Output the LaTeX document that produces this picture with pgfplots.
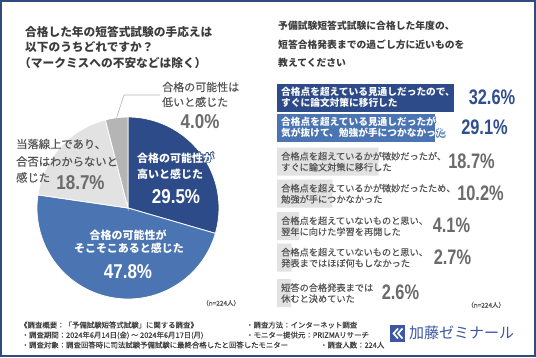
\documentclass[border=0pt]{standalone}
\usepackage{pgfplots}
\pgfplotsset{compat=1.18}
\usepackage{fontspec}
\usepackage{graphicx}
\setmainfont{Noto Sans CJK JP}
\newfontfamily\jpm[FakeBold=0.35]{Noto Sans CJK JP}
\newfontfamily\jpl[FakeBold=0.15]{Noto Sans CJK JP}
\newfontfamily\num{Liberation Sans}
\definecolor{navy}{HTML}{2C4B88}
\definecolor{midblue}{HTML}{4A74B2}
\definecolor{lgray}{HTML}{E2E2E2}
\definecolor{mgray}{HTML}{B5B5B5}
\definecolor{txt}{HTML}{555555}
\definecolor{ttl}{HTML}{3C3C3C}
\definecolor{pgray}{HTML}{6B6B6B}
\definecolor{pnavy}{HTML}{2F4F8E}
\definecolor{frame}{HTML}{2F4B80}
\definecolor{logo}{HTML}{3B57A6}
\newcommand\fs[1]{\fontsize{#1}{#1}\selectfont}
\newcommand\outl[5]{%
  \foreach \dx/\dy in {0.6/0,-0.6/0,0/0.6,0/-0.6,0.42/0.42,-0.42/0.42,0.42/-0.42,-0.42/-0.42}{%
    \node[anchor=base west, inner sep=0, font=#4, text=#3] at (#1+\dx, #2+\dy) {#5};}%
  \node[anchor=base west, inner sep=0, font=#4, text=white] at (#1,#2) {#5};}
\newcommand\pct[1]{\scalebox{0.78}[1]{#1}}
\newcommand\ppct[1]{\scalebox{0.85}[1]{#1}}
\begin{document}
\begin{tikzpicture}[x=1pt,y=1pt]
\useasboundingbox (0,0) rectangle (536,357);
\fill[white] (0,0) rectangle (536,357);
\draw[frame, line width=2.4pt] (1.2,1.2) rectangle (534.8,355.8);

% ---------- left title
\begin{scope}[every node/.style={anchor=base west, inner sep=0, text=ttl, font=\fs{11.7}\bfseries}]
\node at (25,320.5) {合格した年の短答式試験の手応えは};
\node at (25,305.5) {以下のうちどれですか？};
\node at (19,289.5) {（マークミスへの不安などは除く）};
\end{scope}

% ---------- right title
\begin{scope}[every node/.style={anchor=base west, inner sep=0, text=ttl, font=\fs{9.8}\bfseries}]
\node at (278,327.3) {予備試験短答式試験に合格した年度の、};
\node at (278,308.3) {短答合格発表までの過ごし方に近いものを};
\node at (278,290.3) {教えてください};
\end{scope}

% ---------- pie
\begin{axis}[at={(128pt,149pt)}, anchor=center, scale only axis,
  width=182pt, height=182pt, xmin=-1, xmax=1, ymin=-1, ymax=1,
  hide axis, clip=false]
% values: 29.5, 47.8, 18.7, 4.0 (percent), clockwise from 12 o'clock
\filldraw[fill=navy, draw=white, line width=0.8pt] (axis cs:0,0) -- ++(90:91pt)
  arc[start angle=90, delta angle={-29.5*3.6}, radius=91pt] -- cycle;
\filldraw[fill=midblue, draw=white, line width=0.8pt] (axis cs:0,0) -- ++({90-29.5*3.6}:91pt)
  arc[start angle={90-29.5*3.6}, delta angle={-47.8*3.6}, radius=91pt] -- cycle;
\filldraw[fill=lgray, draw=white, line width=0.8pt] (axis cs:0,0) -- ++({90-77.3*3.6}:91pt)
  arc[start angle={90-77.3*3.6}, delta angle={-18.7*3.6}, radius=91pt] -- cycle;
\filldraw[fill=mgray, draw=white, line width=0.8pt] (axis cs:0,0) -- ++({90-96.0*3.6}:91pt)
  arc[start angle={90-96.0*3.6}, delta angle={-4.0*3.6}, radius=91pt] -- cycle;
\end{axis}
\draw[mgray, line width=0.6pt] (116.6,239.3) -- (124,262) -- (160,262);

% pie labels
\begin{scope}[every node/.style={anchor=base west, inner sep=0, text=txt, font=\jpm\fs{11}}]
\node at (162,265.8) {合格の可能性は};
\node at (162,250.8) {低いと感じた};
\end{scope}
\node[anchor=base, inner sep=0, text=pgray, font=\num\fs{20}\bfseries] at (200,228.8) {\ppct{4.0\%}};
\begin{scope}[every node/.style={anchor=base west, inner sep=0, text=txt, font=\jpm\fs{11.3}}]
\node at (16,208.7) {当落線上であり、};
\node at (16,191.2) {合否はわからないと};
\node at (16,175.2) {感じた};
\end{scope}
\node[anchor=base, inner sep=0, text=pgray, font=\num\fs{20}\bfseries] at (80.5,167.8) {\ppct{18.7\%}};
\outl{137}{194.8}{navy}{\fs{11}\bfseries}{合格の可能性が}
\node[anchor=base west, inner sep=0, text=white, font=\fs{11}\bfseries] at (137,178.8) {高いと感じた};
\node[anchor=base, inner sep=0, text=white, font=\num\fs{20}\bfseries] at (176,153.3) {\ppct{29.5\%}};
\node[anchor=base, inner sep=0, text=white, font=\fs{11}\bfseries] at (128,117.8) {合格の可能性が};
\node[anchor=base, inner sep=0, text=white, font=\fs{11}\bfseries] at (129,104.3) {そこそこあると感じた};
\node[anchor=base, inner sep=0, text=white, font=\num\fs{20}\bfseries] at (128,78.3) {\ppct{47.8\%}};
\node[anchor=base west, inner sep=0, text=txt, font=\jpl\fs{6.5}] at (202,51.5) {（n=224人）};

% ---------- bars
\begin{axis}[at={(277pt,45pt)}, anchor=south west, scale only axis,
  width=217.6pt, height=232pt, xmin=0, xmax=40, ymin=45, ymax=277,
  hide axis, xbar, bar width=28pt, bar shift=0pt]
\addplot[fill=navy, draw=none] coordinates {(32.6,259.5)};
\addplot[fill=midblue, draw=none] coordinates {(29.1,229.5)};
\addplot[fill=lgray, draw=none] coordinates {(18.7,195.5) (10.2,163.5) (4.1,131) (2.7,99.5) (2.6,64)};
\end{axis}

% bar labels
\outl{281}{261.3}{navy}{\fs{9.7}\bfseries}{合格点を超えている見通しだったので、}
\outl{281}{250.3}{navy}{\fs{9.7}\bfseries}{すぐに論文対策に移行した}
\outl{281}{231.3}{midblue}{\fs{9.7}\bfseries}{合格点を超えている見通しだったが}
\outl{281}{220.3}{midblue}{\fs{9.7}\bfseries}{気が抜けて、勉強が手につかなかった}
\begin{scope}[every node/.style={anchor=base west, inner sep=0, text=txt, font=\jpm\fs{9.2}}]
\node at (281,197.3) {合格点を超えているかが微妙だったが、};
\node at (281,186.3) {すぐに論文対策に移行した};
\node at (281,165.3) {合格点を超えているかが微妙だったため、};
\node at (281,154.3) {勉強が手につかなかった};
\node at (281,132.8) {合格点を超えていないものと思い、};
\node at (281,121.8) {翌年に向けた学習を再開した};
\node at (281,101.3) {合格点を超えていないものと思い、};
\node at (281,90.3) {発表まではほぼ何もしなかった};
\node at (281,65.8) {短答の合格発表までは};
\node at (281,54.8) {休むと決めていた};
\end{scope}
\begin{scope}[every node/.style={anchor=base, inner sep=0, font=\num\fs{21}\bfseries}]
\node[text=pnavy] at (492,253) {\pct{32.6\%}};
\node[text=pnavy] at (484.5,223) {\pct{29.1\%}};
\node[text=pgray] at (471.5,189) {\pct{18.7\%}};
\node[text=pgray] at (480.5,157) {\pct{10.2\%}};
\node[text=pgray] at (451.5,124.5) {\pct{4.1\%}};
\node[text=pgray] at (452.5,93) {\pct{2.7\%}};
\node[text=pgray] at (400.5,57.5) {\pct{2.6\%}};
\end{scope}
\node[anchor=base west, inner sep=0, text=txt, font=\jpl\fs{6.5}] at (467,49.5) {（n=224人）};

% ---------- footer
\begin{scope}[every node/.style={anchor=base west, inner sep=0, text=ttl, font=\jpl\fs{7.4}}]
\node at (20,29.2) {《調査概要：「予備試験短答式試験」に関する調査》};
\node at (21.5,19.2) {・調査期間：2024年6月14日(金) ～ 2024年6月17日(月)};
\node at (21.5,9.2) {・調査対象：調査回答時に司法試験予備試験に最終合格したと回答したモニター};
\node at (246,29.2) {・調査方法：インターネット調査};
\node at (246,19.2) {・モニター提供元：PRIZMAリサーチ};
\node at (320,9.2) {・調査人数：224人};
\end{scope}

% ---------- logo
\fill[logo] (390,15) rectangle (405,32);
\draw[white, line width=1.7pt, line join=miter] (398,28.5) -- (393.5,23.5) -- (398,18.5);
\draw[white, line width=1.7pt, line join=miter] (402.5,28.5) -- (398,23.5) -- (402.5,18.5);
\node[anchor=base west, inner sep=0, text=logo, font=\fs{15}] at (409,18.3) {加藤ゼミナール};
\end{tikzpicture}
\end{document}
